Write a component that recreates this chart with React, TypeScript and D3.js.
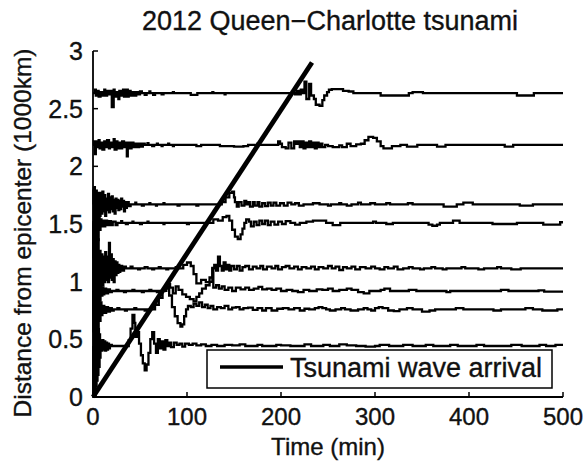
import React from "react";
import * as d3 from "d3";

const TITLE = "2012 Queen\u2212Charlotte tsunami";
const X_LABEL = "Time (min)";
const Y_LABEL = "Distance from epicenter (1000km)";
const LEGEND_LABEL = "Tsunami wave arrival";
const X_TICKS = [0, 100, 200, 300, 400, 500];
const Y_TICKS = [0, 0.5, 1, 1.5, 2, 2.5, 3];

// station distances (1000 km)
const BASES = [2.634, 2.186, 1.67, 1.51, 1.116, 0.919, 0.76, 0.442];

// tsunami arrival line
const ARRIVAL_T = [0, 233];
const ARRIVAL_D = [0, 2.9];

// per-station sea-level records: [time (min), offset (1000 km units)]
const TRACE_A: [number, number][] = [[0,0],[2,0.03],[3,-0.02],[5,0.02],[6,-0.03],[8,0.01],[10,-0.02],[12,0.03],[13,-0.02],[15,0.02],[17,-0.01],[19,0.02],[20,-0.12],[22,0.03],[23,-0.03],[25,0.01],[27,-0.05],[28,0.02],[30,-0.02],[32,0.03],[33,-0.03],[35,0.03],[37,-0.03],[38,0.02],[40,-0.02],[42,0.01],[44,-0.02],[46,0.01],[48,-0.01],[50,0.015],[52,0],[55,-0.015],[57,0],[60,0.015],[61,0],[64,-0.015],[66,0],[73,-0.01],[75,0],[85,0.01],[86,0],[104,-0.015],[111,0],[127,0.01],[128,0],[140,-0.01],[141,0],[215,-0.01],[217,0.02],[219,-0.01],[221,0.03],[223,0],[225,0.1],[227,-0.05],[230,0.08],[232,-0.02],[235,-0.05],[237,-0.1],[241,-0.11],[244,-0.06],[246,-0.02],[249,0.01],[251,0.03],[254,0.035],[263,0.035],[266,0.02],[272,0.015],[277,0],[306,-0.02],[330,-0.02],[336,0],[340,0.01],[348,0.01],[351,0],[451,-0.02],[467,-0.02],[469,0],[500,0]];
const TRACE_B: [number, number][] = [[0,0],[1,0.03],[2,-0.08],[3,0.03],[4,-0.02],[6,0.04],[7,-0.03],[9,0.02],[10,-0.04],[12,0.03],[14,-0.02],[15,0.04],[17,-0.03],[18,0.02],[20,-0.02],[22,0.05],[23,-0.04],[25,0.03],[26,-0.03],[28,0.02],[30,-0.03],[31,0.03],[33,-0.02],[35,0.02],[36,-0.1],[37,0.02],[39,-0.03],[41,0.02],[43,-0.02],[45,0.01],[47,-0.02],[49,0.01],[51,-0.015],[53,0.01],[55,0],[58,0.015],[59,0],[63,-0.01],[65,0],[68,0.01],[69,0],[73,-0.01],[74,0],[80,0.01],[81,0],[85,-0.01],[86,0],[110,-0.01],[115,0],[135,-0.01],[150,-0.015],[160,-0.01],[165,0],[175,0.01],[176,0],[195,0],[197,0.03],[199,0.01],[201,-0.02],[205,-0.03],[208,0.02],[211,-0.03],[214,0.03],[216,0.01],[218,0.03],[220,-0.02],[222,0.03],[224,-0.03],[226,0.02],[228,-0.02],[230,0.03],[232,-0.02],[234,0.02],[236,-0.03],[238,0.02],[240,-0.02],[242,0.01],[244,-0.02],[247,0],[250,-0.01],[255,-0.02],[262,-0.005],[265,-0.02],[270,0.01],[274,-0.01],[280,0.005],[285,0.01],[289,0.04],[293,0.07],[298,0.06],[302,0.03],[306,-0.01],[309,-0.03],[318,-0.01],[327,0],[334,-0.015],[345,0],[366,-0.015],[375,0],[438,-0.015],[447,0],[500,0]];
const TRACE_C: [number, number][] = [[0,0],[0.5,0.12],[1,-0.45],[1.5,0.15],[2,-0.35],[2.5,0.1],[3,-0.3],[3.5,0.12],[4,-0.25],[4.5,0.08],[5,-0.2],[5.5,0.1],[6,-0.15],[6.5,0.06],[7,-0.1],[8,0.1],[9,-0.08],[10,0.11],[11,-0.06],[12,0.08],[13,-0.1],[14,0.05],[15,-0.05],[16,0.09],[17,-0.07],[18,0.06],[19,-0.04],[20,0.07],[21,-0.06],[22,0.04],[23,-0.08],[24,0.05],[25,-0.03],[26,0.04],[27,-0.05],[28,0.03],[29,-0.04],[30,0.05],[31,-0.02],[32,0.03],[33,-0.06],[34,0.02],[35,-0.03],[36,0.02],[38,-0.015],[40,0],[45,0.015],[46,0],[52,-0.01],[54,0],[60,0.01],[61,0],[67,-0.01],[68,0],[75,0.01],[76,0],[90,-0.01],[92,0],[110,-0.01],[112,0],[130,0],[137,0.02],[141,0.06],[145,0.1],[148,0.11],[150,0.06],[151,0.02],[153,-0.02],[155,0.02],[158,-0.01],[161,0.03],[163,0],[165,0.02],[167,-0.02],[170,0.02],[172,-0.01],[175,0.02],[177,-0.02],[180,0.01],[183,-0.015],[186,0.015],[189,-0.01],[192,0.015],[195,-0.01],[199,0.01],[203,-0.01],[207,0.015],[211,0],[215,0.01],[219,-0.01],[224,0],[234,0.01],[241,0],[250,-0.01],[253,0],[262,0.01],[264,0],[270,-0.01],[275,0],[282,0.015],[285,0],[295,0.01],[300,0],[312,0.01],[316,0],[335,0.01],[340,0],[373,-0.02],[387,0],[394,0.015],[404,0],[454,-0.01],[468,0],[500,0]];
const TRACE_D: [number, number][] = [[0,0],[0.5,-0.3],[1,0.3],[1.5,-0.4],[2,0.25],[2.5,-0.3],[3,0.2],[3.5,-0.25],[4,0.15],[4.5,-0.2],[5,0.1],[5.5,-0.15],[6,0.08],[7,-0.06],[8,0.03],[9,-0.03],[10,0.02],[12,-0.03],[13,0.02],[15,-0.02],[17,0.015],[19,-0.02],[21,0.01],[24,-0.02],[26,0],[30,0.015],[31,0],[35,-0.01],[37,0],[42,0.01],[43,0],[50,-0.01],[52,0],[58,0.01],[59,0],[75,-0.01],[76,0],[100,-0.01],[102,0],[122,0],[128,0.03],[133,0.02],[138,0.05],[142,0.06],[145,0.02],[148,-0.06],[151,-0.12],[154,-0.14],[157,-0.1],[159,-0.05],[161,0],[163,0.03],[166,0.01],[168,-0.03],[171,0.01],[174,-0.02],[177,0.02],[180,-0.01],[183,0.02],[186,-0.02],[189,0.01],[193,-0.015],[197,0.01],[201,-0.01],[205,0.015],[210,0],[215,-0.015],[220,0],[227,0.01],[234,0.02],[248,0],[255,-0.02],[263,0],[273,0],[298,0.01],[301,0],[312,-0.01],[319,0],[357,-0.015],[361,-0.025],[366,-0.015],[369,0],[383,0.02],[390,0],[425,-0.01],[451,0],[479,-0.015],[497,0.005],[500,0.005]];
const TRACE_E: [number, number][] = [[0,0],[0.5,0.4],[1,-0.4],[1.5,0.45],[2,-0.35],[2.5,0.4],[3,-0.3],[3.5,0.35],[4,-0.25],[4.5,0.3],[5,-0.2],[5.5,0.25],[6,-0.15],[7,0.15],[8,-0.14],[9,0.12],[10,-0.15],[11,0.1],[12,-0.12],[13,0.14],[14,-0.1],[15,0.1],[16,-0.12],[17,0.22],[18,-0.08],[19,0.12],[20,-0.1],[21,0.08],[22,-0.12],[23,0.06],[24,-0.06],[25,0.05],[26,-0.04],[27,0.03],[28,-0.03],[29,0.02],[31,-0.02],[33,0.015],[35,0],[40,0.015],[42,0],[48,-0.01],[50,0],[55,0.01],[58,0],[63,-0.01],[65,0],[70,0.01],[72,0],[78,-0.01],[80,0],[88,0.01],[90,0],[96,0.03],[100,0.05],[104,0.02],[107,-0.05],[110,-0.13],[115,-0.1],[120,-0.12],[124,-0.08],[127,0],[129,0.03],[131,-0.02],[133,0.1],[135,0.02],[137,-0.02],[139,0.05],[141,-0.01],[143,0.03],[145,-0.02],[147,0.02],[150,-0.01],[153,0.02],[156,-0.02],[159,0.01],[162,0.02],[166,-0.01],[170,0.015],[174,0],[178,0.02],[181,-0.01],[185,0.015],[190,0],[194,0.02],[197,-0.01],[201,0.01],[205,0.02],[209,0],[214,0.015],[218,-0.01],[222,0.01],[227,0],[232,0.015],[236,-0.01],[240,0.01],[245,0],[250,0.02],[254,0],[258,0.015],[262,-0.015],[266,0.01],[270,0],[275,0.015],[279,-0.01],[284,0.01],[290,0],[296,0.015],[300,0],[305,-0.01],[310,0.01],[314,0],[320,0.015],[324,-0.01],[330,0],[336,0.01],[340,0],[348,-0.01],[352,0],[360,0.01],[364,0],[372,-0.01],[376,0],[392,0.01],[396,0],[410,-0.01],[416,0],[430,0.01],[434,0],[445,-0.01],[455,0],[500,0]];
const TRACE_F: [number, number][] = [[0,0],[0.5,-0.35],[1,0.35],[1.5,-0.3],[2,0.3],[2.5,-0.25],[3,0.25],[3.5,-0.2],[4,0.2],[5,-0.15],[6,0.12],[7,-0.08],[8,0.05],[9,-0.04],[10,0.03],[11,-0.03],[12,0.02],[14,-0.02],[16,0.015],[18,-0.01],[20,0],[25,0.01],[27,0],[33,-0.01],[35,0],[42,0.01],[44,0],[52,-0.01],[54,0],[60,0.01],[62,0],[68,-0.01],[70,0],[76,0.02],[79,0.06],[82,0.03],[85,-0.02],[88,0.04],[91,0.01],[95,-0.03],[99,-0.05],[103,-0.07],[107,-0.09],[110,-0.05],[113,-0.02],[116,0.02],[120,0.05],[124,0.08],[127,0.2],[128,0.03],[131,0.05],[134,0.02],[137,0.04],[140,0.01],[144,0.03],[148,0],[152,0.03],[157,0.015],[162,0.03],[166,0.01],[171,0.02],[176,0.035],[180,0.015],[185,0.02],[190,0.01],[195,0.02],[200,0],[206,0.01],[212,0],[218,-0.01],[224,0.01],[230,0],[238,0.015],[244,0.01],[250,0.02],[255,0],[262,0.01],[270,0.02],[275,0.01],[282,-0.01],[288,-0.02],[294,0],[306,0.01],[310,0.02],[316,0],[336,0.01],[344,0],[376,-0.01],[380,0],[434,0.01],[442,0],[474,0.005],[480,-0.005],[500,-0.005]];
const TRACE_G: [number, number][] = [[0,0],[0.5,0.35],[1,-0.35],[1.5,0.3],[2,-0.3],[2.5,0.25],[3,-0.25],[4,0.2],[5,-0.15],[6,0.12],[7,-0.1],[8,0.06],[9,-0.05],[10,0.03],[12,-0.03],[14,0.02],[16,-0.02],[18,0.01],[20,-0.01],[22,0],[26,0.01],[28,0],[34,-0.01],[36,0],[44,0.01],[46,0],[55,-0.01],[57,0],[62,0],[66,0.04],[70,0.1],[74,0.16],[78,0.2],[81,0.12],[84,0.02],[87,-0.06],[90,-0.12],[93,-0.15],[95,-0.13],[97,-0.06],[99,0],[101,0.03],[104,0.02],[107,0.05],[110,0.03],[113,0.06],[116,0.02],[119,0.04],[122,0.01],[125,0.03],[128,0],[132,0.02],[136,0.01],[140,0.03],[144,0],[148,0.015],[152,0.02],[156,0],[160,0.01],[165,0.015],[170,-0.005],[175,0.01],[180,-0.01],[184,0.01],[190,-0.01],[196,0.005],[202,0.01],[208,0],[214,0.01],[220,-0.01],[225,0.005],[230,0],[236,0.01],[240,0.02],[244,0.01],[248,0],[252,-0.01],[258,0],[264,0.01],[268,0],[274,-0.01],[282,0],[288,0.01],[292,0],[296,-0.01],[300,0.01],[304,0.02],[308,0.01],[314,-0.01],[320,-0.015],[326,0],[334,0.01],[340,0],[350,-0.02],[358,-0.01],[364,0],[386,0.01],[394,0],[426,-0.01],[434,0],[460,0.01],[468,0],[478,-0.01],[494,0],[500,0]];
const TRACE_H: [number, number][] = [[0,0],[0.3,-0.44],[0.8,0.42],[1.3,-0.44],[1.8,0.38],[2.3,-0.44],[2.8,0.3],[3.3,-0.35],[3.8,0.25],[4.3,-0.3],[4.8,0.2],[5.3,-0.25],[5.8,0.15],[6.3,-0.18],[7,0.1],[7.5,-0.1],[8,0.04],[9,-0.04],[10,0.05],[11,-0.03],[12,0.04],[13,-0.04],[14,0.03],[15,-0.03],[16,0.02],[17,-0.02],[18,0.01],[20,0],[36,0],[38,0.05],[40,0.15],[42,0.27],[44,0.2],[45,0.08],[47,0.12],[49,0.02],[51,-0.08],[53,-0.15],[55,-0.21],[57,-0.16],[59,-0.06],[61,0.06],[63,0.12],[65,0.02],[67,-0.06],[69,0.06],[71,-0.02],[73,0.04],[75,-0.03],[77,0.05],[79,0],[81,0.03],[83,-0.01],[86,0.03],[89,0.01],[92,0.02],[95,-0.005],[98,0.02],[102,0.01],[106,0.02],[110,0.005],[115,0.015],[120,0],[126,0.01],[132,0],[140,0.01],[148,0.005],[156,0.015],[162,0],[175,0.01],[180,0],[195,0.01],[200,0.005],[210,0],[225,0.015],[232,0],[245,0.01],[252,0],[262,0.015],[270,0.005],[280,0],[290,-0.005],[300,0],[305,0.01],[315,0],[330,0.01],[340,0],[354,0.01],[362,0],[380,0.01],[388,0],[408,0.01],[416,0],[445,0.01],[456,0],[475,0.01],[482,0],[492,0.01],[500,0.01]];

const TRACES = [TRACE_A, TRACE_B, TRACE_C, TRACE_D, TRACE_E, TRACE_F, TRACE_G, TRACE_H];

const W = 586;
const H = 464;
const M = { left: 93, right: 563, top: 51, bottom: 397 };
const FONT = "'Liberation Sans', Arial, Helvetica, sans-serif";
const TXT = { fill: "#111", stroke: "#111", strokeWidth: 0.35 };

export default function App() {
  const x = d3.scaleLinear().domain([0, 500]).range([M.left, M.right]);
  const y = d3.scaleLinear().domain([0, 3]).range([M.bottom, M.top]);

  const traceLine = d3
    .line<[number, number]>()
    .x((d) => x(d[0]))
    .y((d) => y(d[1]))
    .curve(d3.curveStepAfter);

  const arrival = d3
    .line<number>()
    .x((_, i) => x(ARRIVAL_T[i]))
    .y((d) => y(d));

  const legend = { x0: 207, x1: 552, y0: 350, y1: 388 };

  return (
    <svg
      width={W}
      height={H}
      style={{ position: "absolute", left: 0, top: 0, background: "#fff" }}
      fontFamily={FONT}
    >
      <rect x={0} y={0} width={W} height={H} fill="#fff" />
      <text x={330} y={30} textAnchor="middle" fontSize={27} {...TXT}>
        {TITLE}
      </text>

      {TRACES.map((tr, i) => (
        <path
          key={i}
          d={traceLine(tr.map(([t, v]) => [t, BASES[i] + v] as [number, number])) || ""}
          fill="none"
          stroke="#000"
          strokeWidth={2.3}
          strokeLinejoin="miter"
        />
      ))}

      <path d={arrival(ARRIVAL_D) || ""} fill="none" stroke="#000" strokeWidth={4.8} />

      {/* axes */}
      <line x1={M.left} x2={M.left} y1={M.top} y2={M.bottom} stroke="#000" strokeWidth={1.8} />
      <line x1={M.left} x2={M.right} y1={M.bottom} y2={M.bottom} stroke="#000" strokeWidth={1.8} />
      {Y_TICKS.map((t) => (
        <g key={"y" + t}>
          <line x1={M.left} x2={M.left + 5} y1={y(t)} y2={y(t)} stroke="#000" strokeWidth={1.5} />
          <text x={M.left - 10} y={y(t)} dy="0.36em" textAnchor="end" fontSize={25} {...TXT}>
            {t}
          </text>
        </g>
      ))}
      {X_TICKS.map((t) => (
        <g key={"x" + t}>
          <line x1={x(t)} x2={x(t)} y1={M.bottom} y2={M.bottom - 5} stroke="#000" strokeWidth={1.5} />
          <text x={x(t)} y={425} textAnchor="middle" fontSize={24} {...TXT}>
            {t}
          </text>
        </g>
      ))}
      <text x={328} y={455} textAnchor="middle" fontSize={24} {...TXT}>
        {X_LABEL}
      </text>
      <text
        transform={`translate(31, ${233}) rotate(-90)`}
        textAnchor="middle"
        fontSize={24.5}
        {...TXT}
      >
        {Y_LABEL}
      </text>

      {/* legend */}
      <rect
        x={legend.x0}
        y={legend.y0}
        width={legend.x1 - legend.x0}
        height={legend.y1 - legend.y0}
        fill="#fff"
        stroke="#000"
        strokeWidth={1.5}
      />
      <line x1={220} x2={283} y1={367} y2={367} stroke="#000" strokeWidth={3.5} />
      <text x={290} y={377} fontSize={27} {...TXT}>
        {LEGEND_LABEL}
      </text>
    </svg>
  );
}
